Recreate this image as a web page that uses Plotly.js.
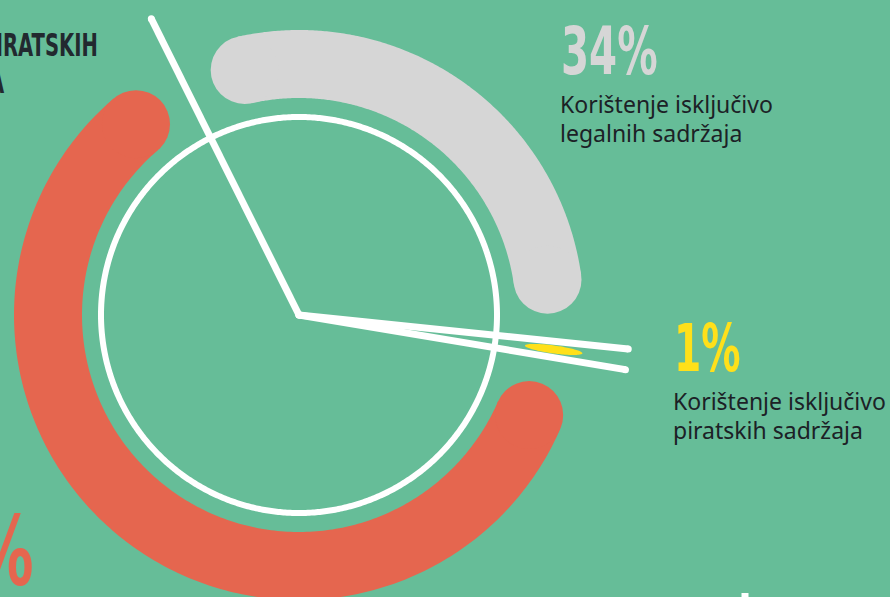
<!DOCTYPE html>
<html>
<head>
<meta charset="utf-8">
<script src="https://cdn.plot.ly/plotly-3.0.1.min.js"></script>
<style>
  html, body { margin: 0; padding: 0; background: #66bd98; }
  #chart { width: 890px; height: 597px; }
</style>
</head>
<body>
<div id="chart"></div>
<script>
// ---- Data ----
const categories = [
  'Korištenje isključivo legalnih sadržaja',
  'Korištenje isključivo piratskih sadržaja',
  'Korištenje i legalnih i piratskih sadržaja'
];
const values = [34, 1, 65];
const valueLabels = ['34%', '1%', '65%'];
const labelLines = [
  ['Korištenje isključivo', 'legalnih sadržaja'],
  ['Korištenje isključivo', 'piratskih sadržaja'],
  []
];
const headingLines = ['I LEGALNIH I PIRATSKIH', 'SADRŽAJA'];

// ---- Styles / geometry (pixel space) ----
const BG = '#66bd98';
const colors = ['#d6d6d6', '#ffe01a', '#e5664f'];
const W = 890, H = 597;
const cx = 299, cy = 315;
const ringR = 251, ringW = 68;
const gapDeg = 14;
const startDeg = -26.5;
const circleR = 198, circleW = 6;
const spokeLen = 331, spokeW = 7;

function pt(deg, r) {
  const a = deg * Math.PI / 180;
  return [cx + r * Math.sin(a), cy - r * Math.cos(a)];
}

const traces = [];
const total = values.reduce((a, b) => a + b, 0);
const bounds = [startDeg];
values.forEach(v => bounds.push(bounds[bounds.length - 1] + v / total * 360));

values.forEach((v, i) => {
  const a0 = bounds[i], a1 = bounds[i + 1];
  if (a1 - a0 > 2 * gapDeg) {
    const s = a0 + gapDeg, e = a1 - gapDeg;
    const xs = [], ys = [];
    const n = 240;
    for (let k = 0; k <= n; k++) {
      const p = pt(s + (e - s) * k / n, ringR);
      xs.push(p[0]); ys.push(p[1]);
    }
    traces.push({x: xs, y: ys, type: 'scatter', mode: 'lines',
      line: {color: colors[i], width: ringW, shape: 'linear', simplify: false}, hoverinfo: 'skip', name: categories[i]});
    traces.push({x: [xs[0], xs[n]], y: [ys[0], ys[n]], type: 'scatter', mode: 'markers',
      marker: {color: colors[i], size: ringW, line: {width: 0}}, hoverinfo: 'skip'});
  } else {
    // thin sliver: ellipse along radius at segment middle
    const mid = (a0 + a1) / 2;
    const am = mid * Math.PI / 180;
    const ur = [Math.sin(am), -Math.cos(am)];
    const ut = [Math.cos(am), Math.sin(am)];
    const c = pt(mid, ringR + 6);
    const xs = [], ys = [];
    for (let k = 0; k <= 120; k++) {
      const t = 2 * Math.PI * k / 120;
      const rr = 29 * Math.cos(t), tt = 4 * Math.sin(t);
      xs.push(c[0] + rr * ur[0] + tt * ut[0]);
      ys.push(c[1] + rr * ur[1] + tt * ut[1]);
    }
    traces.push({x: xs, y: ys, type: 'scatter', mode: 'lines', fill: 'toself',
      fillcolor: colors[i], line: {color: colors[i], width: 0, simplify: false}, hoverinfo: 'skip', name: categories[i]});
  }
});

// white circle
{
  const xs = [], ys = [];
  for (let k = 0; k <= 720; k++) { const p = pt(k / 2, circleR); xs.push(p[0]); ys.push(p[1]); }
  traces.push({x: xs, y: ys, type: 'scatter', mode: 'lines',
    line: {color: '#ffffff', width: circleW, simplify: false}, hoverinfo: 'skip'});
}
// spokes at segment boundaries
bounds.slice(0, values.length).forEach(b => {
  const p = pt(b, spokeLen);
  traces.push({x: [cx, p[0]], y: [cy, p[1]], type: 'scatter', mode: 'lines',
    line: {color: '#ffffff', width: spokeW}, hoverinfo: 'skip'});
  traces.push({x: [cx, p[0]], y: [cy, p[1]], type: 'scatter', mode: 'markers',
    marker: {color: '#ffffff', size: spokeW, line: {width: 0}}, hoverinfo: 'skip'});
});

const bigFont = '"Liberation Sans Narrow", "DejaVu Sans Condensed", "Roboto", sans-serif';
const bodyFont = '"Noto Sans", "Open Sans", sans-serif';
const annotations = [];
const condensed = [];
function ann(text, x, y, size, color, family, xanchor, squeeze) {
  annotations.push({text: text, x: x / W, y: 1 - y / H, xref: 'paper', yref: 'paper',
    xanchor: xanchor || 'left', yanchor: 'middle', showarrow: false,
    font: {size: size, color: color, family: family}});
  condensed.push(squeeze || 0);
}
// value labels
ann('<b>' + valueLabels[0] + '</b>', 559, 52, 66, colors[0], bigFont, 'left', 0.68);
ann(labelLines[0][0], 558, 104, 23, '#1c2126', bodyFont);
ann(labelLines[0][1], 558, 133, 23, '#1c2126', bodyFont);
ann('<b>' + valueLabels[1] + '</b>', 672, 348, 66, colors[1], bigFont, 'left', 0.66);
ann(labelLines[1][0], 671, 401, 23, '#1c2126', bodyFont);
ann(labelLines[1][1], 671, 430, 23, '#1c2126', bodyFont);
ann('<b>' + valueLabels[2] + '</b>', 36, 552, 96, colors[2], bigFont, 'right', 0.68);
// heading (cropped at left)
ann('<b>' + headingLines[0] + '</b>', 100, 45, 32, '#22292f', bigFont, 'right', 0.68);
ann('<b>' + headingLines[1] + '</b>', 7, 82, 32, '#22292f', bigFont, 'right', 0.68);

const layout = {
  width: W, height: H,
  margin: {l: 0, r: 0, t: 0, b: 0, pad: 0},
  paper_bgcolor: BG, plot_bgcolor: BG,
  showlegend: false, hovermode: false,
  xaxis: {range: [0, W], visible: false, fixedrange: true},
  yaxis: {range: [H, 0], visible: false, fixedrange: true},
  annotations: annotations,
  shapes: [
    // tip of the next graphic's white line, cut off at bottom
    {type: 'line', xref: 'x', yref: 'y', x0: 745, y0: 593, x1: 745, y1: 620,
     line: {color: '#ffffff', width: 7}}
  ]
};

Plotly.newPlot('chart', traces, layout, {staticPlot: true, displayModeBar: false}).then(gd => {
  gd.querySelectorAll('.annotation').forEach(g => {
    const i = +g.getAttribute('data-index');
    const s = condensed[i];
    if (!s) return;
    const t = g.querySelector('text.annotation-text');
    if (!t) return;
    t.style.transformBox = 'fill-box';
    t.style.transformOrigin = (annotations[i].xanchor === 'right' ? 'right' : 'left') + ' center';
    t.style.transform = 'scaleX(' + s + ')';
  });
});
</script>
</body>
</html>
